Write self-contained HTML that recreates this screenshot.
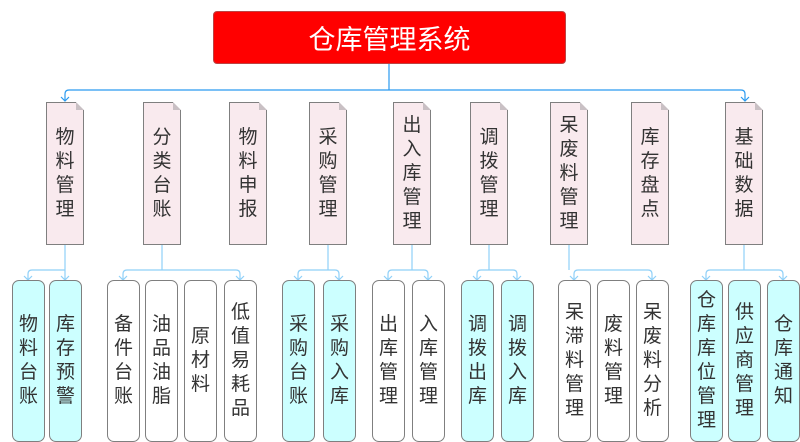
<!DOCTYPE html>
<html><head><meta charset="utf-8"><style>
body{margin:0;width:800px;height:442px;background:#fff;position:relative;overflow:hidden;font-family:"Liberation Sans","Noto Sans CJK SC",sans-serif;}
.root{position:absolute;left:213px;top:11px;width:351px;height:51px;background:#ff0000;border:1px solid #b44;border-radius:4px;color:#fff;font-size:27px;display:flex;align-items:center;justify-content:center;}
.p{position:absolute;top:102px;height:141px;width:36px;background:#f9eaee;border:1px solid #7f7f7f;display:flex;align-items:center;justify-content:center;text-align:center;font-size:19px;line-height:24px;color:#333;}
.p:after{content:"";position:absolute;right:-1px;top:-1px;width:0;height:0;border-style:solid;border-width:0 8px 8px 0;border-color:#fff #fff #c9c0c4 #c9c0c4;}
.c{position:absolute;top:280px;height:160px;width:31px;border:1px solid #7f7f7f;border-radius:7px;display:flex;align-items:center;justify-content:center;text-align:center;font-size:19px;line-height:24px;color:#333;background:#fff;}
.cy{background:#ccffff;}
svg{position:absolute;left:0;top:0;}
</style></head><body>
<svg width="800" height="442" fill="none">
<g stroke="#2a9af0" stroke-width="1.2">
<path d="M389 63 V90 M69 90 H741 Q745 90 745 94 V101 M69 90 Q65 90 65 94 V101"/>
<path d="M61 97 L65 101 L69 97 M741 97 L745 101 L749 97"/>
</g>
<g stroke="#8fd0f8" stroke-width="1.2">
<path d="M65 244 V270 M28 274 V280 M28 274 Q28 270 32 270 H65 V280 M24 276 L28 280 L32 276 M61 276 L65 280 L69 276"/>
<path d="M162 244 V270 M123 280 V274 Q123 270 127 270 H236 Q240 270 240 274 V280 M119 276 L123 280 L127 276 M236 276 L240 280 L244 276"/>
<path d="M328 244 V270 M298 280 V274 Q298 270 302 270 H335 Q339 270 339 274 V280 M294 276 L298 280 L302 276 M335 276 L339 280 L343 276"/>
<path d="M412 244 V270 M388 280 V274 Q388 270 392 270 H424 Q428 270 428 274 V280 M384 276 L388 280 L392 276 M424 276 L428 280 L432 276"/>
<path d="M489 244 V270 M477 280 V274 Q477 270 481 270 H513 Q517 270 517 274 V280 M473 276 L477 280 L481 276 M513 276 L517 280 L521 276"/>
<path d="M569 244 V270 M574 280 V274 Q574 270 578 270 H648 Q652 270 652 274 V280 M570 276 L574 280 L578 276 M648 276 L652 280 L656 276"/>
<path d="M744 244 V270 M706 280 V274 Q706 270 710 270 H779 Q783 270 783 274 V280 M702 276 L706 280 L710 276 M779 276 L783 280 L787 276"/>
</g>
</svg>
<div class="root">仓库管理系统</div>
<div class="p" style="left:46px">物<br>料<br>管<br>理</div>
<div class="p" style="left:143px">分<br>类<br>台<br>账</div>
<div class="p" style="left:229px">物<br>料<br>申<br>报</div>
<div class="p" style="left:309px">采<br>购<br>管<br>理</div>
<div class="p" style="left:393px">出<br>入<br>库<br>管<br>理</div>
<div class="p" style="left:470px">调<br>拨<br>管<br>理</div>
<div class="p" style="left:550px">呆<br>废<br>料<br>管<br>理</div>
<div class="p" style="left:631px">库<br>存<br>盘<br>点</div>
<div class="p" style="left:725px">基<br>础<br>数<br>据</div>

<div class="c cy" style="left:12px">物<br>料<br>台<br>账</div>
<div class="c cy" style="left:49px">库<br>存<br>预<br>警</div>
<div class="c" style="left:107px">备<br>件<br>台<br>账</div>
<div class="c" style="left:145px">油<br>品<br>油<br>脂</div>
<div class="c" style="left:184px">原<br>材<br>料</div>
<div class="c" style="left:224px">低<br>值<br>易<br>耗<br>品</div>
<div class="c cy" style="left:282px">采<br>购<br>台<br>账</div>
<div class="c cy" style="left:323px">采<br>购<br>入<br>库</div>
<div class="c" style="left:372px">出<br>库<br>管<br>理</div>
<div class="c" style="left:412px">入<br>库<br>管<br>理</div>
<div class="c cy" style="left:461px">调<br>拨<br>出<br>库</div>
<div class="c cy" style="left:501px">调<br>拨<br>入<br>库</div>
<div class="c" style="left:558px">呆<br>滞<br>料<br>管<br>理</div>
<div class="c" style="left:597px">废<br>料<br>管<br>理</div>
<div class="c" style="left:636px">呆<br>废<br>料<br>分<br>析</div>
<div class="c cy" style="left:690px">仓<br>库<br>库<br>位<br>管<br>理</div>
<div class="c cy" style="left:728px">供<br>应<br>商<br>管<br>理</div>
<div class="c cy" style="left:767px">仓<br>库<br>通<br>知</div>
</body></html>
